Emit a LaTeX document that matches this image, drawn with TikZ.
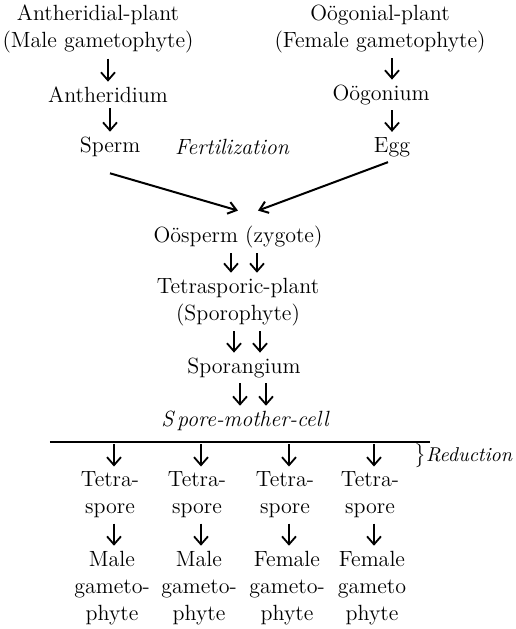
\documentclass[tikz,border=0pt]{standalone}
\usepackage{tikz}
\usetikzlibrary{positioning,arrows.meta}
\tikzset{
  lbl/.style={font=\fontsize{11}{13.5}\selectfont,inner sep=1pt,align=center},
  ilbl/.style={lbl,font=\fontsize{11}{13.5}\selectfont\itshape},
  dnarr/.style={-{Straight Barb[length=4pt,width=7pt]},line width=0.9pt,
    shorten <=1.5pt,shorten >=1.5pt},
  fuse/.style={-{Straight Barb[length=4pt,width=6pt]},line width=1pt},
  redbar/.style={line width=1.4pt},
}
\begin{document}
\begin{tikzpicture}[x=0.5pt,y=-0.5pt]
  \useasboundingbox (0,0) rectangle (516,629);
  % the two gametophytes
  \node[lbl] (mplant) at (98,29) {Antheridial-plant\\(Male gametophyte)};
  \node[lbl] (anth) at (108,95) {Antheridium};
  \node[lbl] (sperm) at (110,147) {Sperm};
  \node[lbl] (fplant) at (380,29) {O\"ogonial-plant\\(Female gametophyte)};
  \node[lbl] (oog) at (381,95) {O\"ogonium};
  \node[lbl] (egg) at (392,147) {Egg};
  \node[ilbl] (fert) at (232,147) {Fertilization};
  \draw[dnarr] (mplant.south -| anth.north) -- (anth.north);
  \draw[dnarr] (anth.south -| sperm.north) -- (sperm.north);
  \draw[dnarr] (fplant.south -| egg.north) -- (oog.north -| egg.north);
  \draw[dnarr] (oog.south -| egg.north) -- (egg.north);
  % sporophyte
  \node[lbl] (oosp) at (238,237) {O\"osperm (zygote)};
  \node[lbl] (tetp) at (238,302) {Tetrasporic-plant\\(Sporophyte)};
  \node[lbl] (spor) at (244,368) {Sporangium};
  \node[ilbl] (smc) at (245,421) {S\,pore-mother-cell};
  \draw[fuse] ([yshift=-7pt]sperm.south) -- ([yshift=6.5pt]oosp.north);
  \draw[fuse] ([xshift=-2pt,yshift=-1.5pt]egg.south) -- ([xshift=10pt,yshift=6.5pt]oosp.north);
  \foreach \dx in {-3.5pt,9.5pt}{
    \draw[dnarr] ([xshift=\dx]oosp.south) -- ([xshift=\dx]oosp.south |- tetp.north);
    \draw[dnarr] ([xshift=\dx+1.5pt]tetp.south) -- ([xshift=\dx+1.5pt]tetp.south |- spor.north);
    \draw[dnarr] ([xshift=\dx+1.5pt]spor.south) -- ([xshift=\dx+1.5pt]spor.south |- smc.north);
  }
  % reduction division
  \coordinate (barL) at (50,442);
  \coordinate (barR) at (430,442);
  \draw[redbar] (barL) -- (barR);
  \node[lbl,font=\fontsize{10}{12}\selectfont,anchor=west,inner sep=0pt] (red) at (414,456) {$\big\}$\textit{Reduction}};
  \foreach \i/\x/\sex/\hy in {1/110/Male/-,2/197/Male/-,3/285/Female/-,4/370/Female/}{
    \node[lbl] (tsp\i) at (\x,495) {Tetra-\\spore};
    \node[lbl] (gam\i) at (\x+2,588) {\sex\\gameto\hy\\phyte};
    \draw[dnarr,shorten <=1pt] ([xshift=2pt]tsp\i.north |- barL) -- ([xshift=2pt]tsp\i.north);
    \draw[dnarr] ([xshift=2pt]tsp\i.south) -- ([xshift=2pt]tsp\i.south |- gam\i.north);
  }
\end{tikzpicture}
\end{document}
